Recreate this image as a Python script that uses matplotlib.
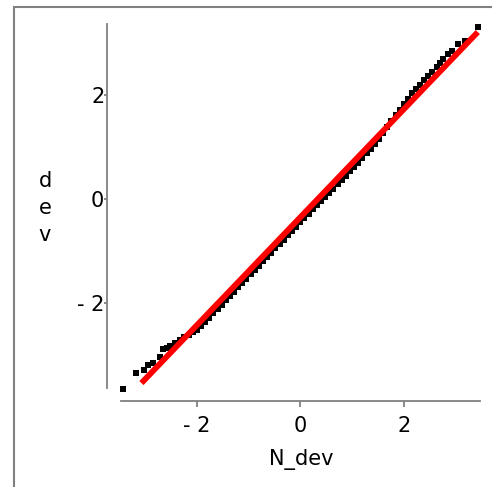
import matplotlib.pyplot as plt
from matplotlib.patches import Rectangle

# normal quantiles (x) and sample deviations (y)
n_dev = [-3.43, -3.18, -3.03, -2.94, -2.84, -2.71, -2.65, -2.58, -2.52, -2.42,
         -2.32, -2.24, -2.16, -2.08, -2.00, -1.92, -1.84, -1.76, -1.68, -1.60,
         -1.52, -1.44, -1.36, -1.28, -1.20, -1.12, -1.04, -0.96, -0.88, -0.80,
         -0.72, -0.64, -0.56, -0.48, -0.40, -0.32, -0.24, -0.16, -0.08, 0.00,
         0.08, 0.16, 0.24, 0.32, 0.40, 0.48, 0.56, 0.64, 0.72, 0.80,
         0.88, 0.96, 1.04, 1.12, 1.20, 1.28, 1.36, 1.44, 1.52, 1.60,
         1.68, 1.76, 1.84, 1.92, 2.00, 2.08, 2.16, 2.24, 2.31, 2.40,
         2.47, 2.55, 2.64, 2.70, 2.75, 2.85, 2.93, 3.04, 3.18, 3.43]
dev = [-3.65, -3.35, -3.29, -3.19, -3.16, -3.04, -2.88, -2.87, -2.82, -2.77,
       -2.72, -2.66, -2.61, -2.56, -2.51, -2.44, -2.36, -2.28, -2.20, -2.11,
       -2.03, -1.95, -1.87, -1.78, -1.70, -1.62, -1.53, -1.45, -1.36, -1.28,
       -1.20, -1.11, -1.03, -0.94, -0.86, -0.78, -0.70, -0.61, -0.53, -0.44,
       -0.36, -0.28, -0.20, -0.12, -0.04, 0.04, 0.12, 0.20, 0.28, 0.37,
       0.45, 0.53, 0.62, 0.70, 0.79, 0.88, 0.97, 1.06, 1.16, 1.27,
       1.39, 1.50, 1.61, 1.72, 1.82, 1.92, 2.03, 2.12, 2.20, 2.29,
       2.37, 2.45, 2.54, 2.62, 2.70, 2.78, 2.85, 2.98, 3.04, 3.31]

# reference line ends
line_x = [-3.07, 3.43]
line_y = [-3.54, 3.21]

ticks = [-2, 0, 2]
tick_labels = ['- 2', '0', '2']

plt.rcParams['font.family'] = ['DejaVu Sans']
grey = '#808080'

fig = plt.figure(figsize=(4.92, 4.87), dpi=100)
ax = fig.add_axes([121 / 492, 1 - 388 / 487, 359 / 492, 364 / 487])

ax.plot(n_dev, dev, 's', color='black', ms=4.2, mew=0, clip_on=False)
ax.plot(line_x, line_y, color='red', lw=4.2, solid_capstyle='butt')

ax.set_xlim(-3.465, 3.473)
ax.set_ylim(-3.635, 3.365)

for s in ['top', 'right']:
    ax.spines[s].set_visible(False)
ax.spines['left'].set_position(('outward', 10))
ax.spines['bottom'].set_position(('outward', 9.5))
for s in ['left', 'bottom']:
    ax.spines[s].set_color(grey)
    ax.spines[s].set_linewidth(1.3)

ax.set_xticks(ticks)
ax.set_xticklabels(tick_labels)
ax.set_yticks(ticks)
ax.set_yticklabels(tick_labels)
ax.tick_params(axis='x', length=4, width=1.3, color=grey, pad=7, labelsize=15)
ax.tick_params(axis='y', length=2, width=1.3, color=grey, pad=0, labelsize=15)

fig.text(301 / 492, 1 - 460 / 487, 'N_dev', ha='center', va='center', fontsize=15)
fig.text(45 / 492, 1 - 208 / 487, 'd\ne\nv', ha='center', va='center',
         fontsize=15, linespacing=1.45)

# outer frame, cut by the right and bottom edges
fig.add_artist(Rectangle((14 / 492, -0.1), 1.2, 1.1 - 7 / 487,
                         transform=fig.transFigure, fill=False,
                         ec=grey, lw=1.5, clip_on=False))

fig.savefig('out.png', dpi=100)
